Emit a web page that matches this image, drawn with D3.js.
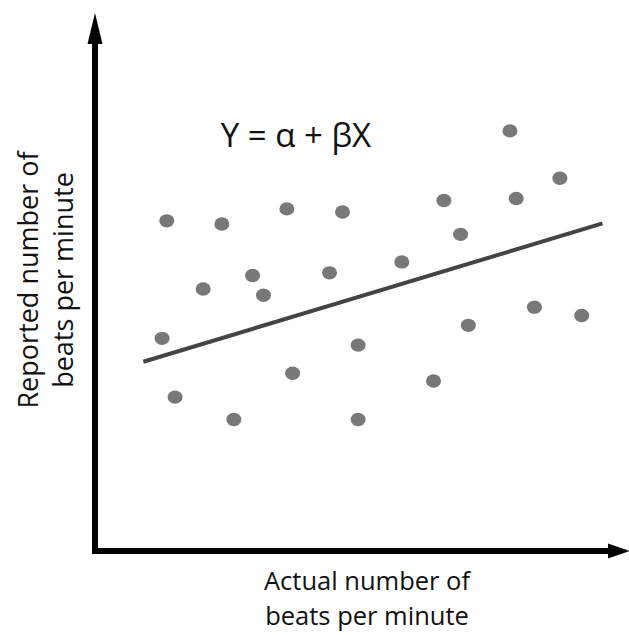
<!DOCTYPE html>
<html>
<head>
<meta charset="utf-8">
<script src="https://cdn.jsdelivr.net/npm/d3@7"></script>
<style>
  html, body { margin: 0; padding: 0; background: #fff; }
  svg { display: block; }
</style>
</head>
<body>
<div id="chart"></div>
<script>
// actual vs reported beats per minute (arbitrary units 0-100)
const actualBpm = [13.8, 24.4, 36.9, 47.6, 20.8, 30.3, 32.4, 45.1, 12.9, 50.6, 38.0, 15.4, 26.7, 50.6,
  79.8, 89.4, 67.1, 81.0, 70.3, 59.0, 84.5, 93.6, 71.8, 65.1];
const reportedBpm = [63.3, 62.7, 65.6, 65.0, 50.2, 52.8, 49.0, 53.3, 40.7, 39.4, 34.0, 29.4, 25.1, 25.1,
  80.6, 71.5, 67.2, 67.6, 60.7, 55.4, 46.7, 45.1, 43.2, 32.5];
const fitLine = [[9.3, 36.2], [97.6, 62.8]];

const equationText = 'Y = \u03b1 + \u03b2X';
const xLabelLines = ['Actual number of', 'beats per minute'];
const yLabelLines = ['Reported number of', 'beats per minute'];

const width = 629, height = 635;

const svg = d3.select('#chart').append('svg')
  .attr('width', width)
  .attr('height', height);

const x = d3.scaleLinear().domain([0, 100]).range([95, 615]);
const y = d3.scaleLinear().domain([0, 100]).range([550, 30]);

const pts = actualBpm.map((v, i) => ({ a: v, r: reportedBpm[i] }));

// axes with arrow heads
const x0 = x(0), y0 = y(0) + 1;
svg.append('line')
  .attr('x1', x0).attr('y1', y0 + 3)
  .attr('x2', x0).attr('y2', 40)
  .attr('stroke', '#000').attr('stroke-width', 6);
svg.append('path')
  .attr('d', `M${x0},13 L${x0 - 7.5},44 L${x0 + 7.5},44 Z`)
  .attr('fill', '#000');

svg.append('line')
  .attr('x1', x0 - 3).attr('y1', y0)
  .attr('x2', 612).attr('y2', y0)
  .attr('stroke', '#000').attr('stroke-width', 6);
svg.append('path')
  .attr('d', `M630,${y0} L608,${y0 - 7.5} L608,${y0 + 7.5} Z`)
  .attr('fill', '#000');

// scatter points
svg.selectAll('ellipse.pt')
  .data(pts)
  .enter()
  .append('ellipse')
  .attr('class', 'pt')
  .attr('cx', d => x(d.a))
  .attr('cy', d => y(d.r))
  .attr('rx', 7.5)
  .attr('ry', 6.7)
  .attr('fill', '#787878');

// regression line
svg.append('path')
  .datum(fitLine)
  .attr('d', d3.line().x(d => x(d[0])).y(d => y(d[1])))
  .attr('stroke', '#444')
  .attr('stroke-width', 4)
  .attr('fill', 'none');

// equation
svg.append('text')
  .attr('x', 296)
  .attr('y', 147)
  .attr('text-anchor', 'middle')
  .attr('font-family', 'Open Sans, sans-serif')
  .attr('font-size', 33)
  .attr('fill', '#111')
  .text(equationText);

// x label
svg.selectAll('text.xl')
  .data(xLabelLines)
  .enter()
  .append('text')
  .attr('class', 'xl')
  .attr('x', 367)
  .attr('y', (d, i) => 590 + i * 35)
  .attr('text-anchor', 'middle')
  .attr('font-family', 'Open Sans, sans-serif')
  .attr('font-size', 25.5)
  .attr('fill', '#111')
  .text(d => d);

// y label
svg.selectAll('text.yl')
  .data(yLabelLines)
  .enter()
  .append('text')
  .attr('class', 'yl')
  .attr('transform', (d, i) => `translate(${38 + i * 35},280) rotate(-90)`)
  .attr('text-anchor', 'middle')
  .attr('font-family', 'Open Sans, sans-serif')
  .attr('font-size', 27)
  .attr('fill', '#111')
  .text(d => d);
</script>
</body>
</html>
